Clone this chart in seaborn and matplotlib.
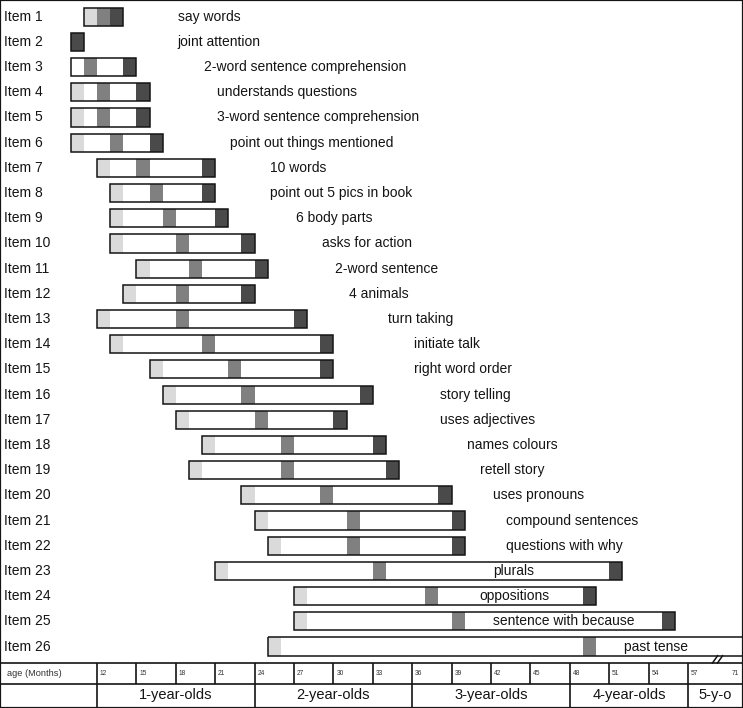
import numpy as np
import pandas as pd
import matplotlib.pyplot as plt
import matplotlib.transforms as mtransforms
import seaborn as sns

# one row per milestone item
items = [f"Item {i}" for i in range(1, 27)]
milestones = [
    "say words", "joint attention", "2-word sentence comprehension",
    "understands questions", "3-word sentence comprehension",
    "point out things mentioned", "10 words", "point out 5 pics in book",
    "6 body parts", "asks for action", "2-word sentence", "4 animals",
    "turn taking", "initiate talk", "right word order", "story telling",
    "uses adjectives", "names colours", "retell story", "uses pronouns",
    "compound sentences", "questions with why", "plurals", "oppositions",
    "sentence with because", "past tense",
]

# age in months where each bar begins / ends
start_month = [11, 10, 10, 10, 10, 10, 12, 13, 13, 13, 15, 14, 12,
               13, 16, 17, 18, 20, 19, 23, 24, 25, 21, 27, 27, 25]
end_month = [14, 11, 15, 16, 16, 17, 21, 21, 22, 24, 25, 24, 28,
             30, 30, 33, 31, 34, 35, 39, 40, 40, 52, 50, 56, 64]

# shaded one-month cells (None = no cell drawn)
light_month = [11, None, None, 10, 10, 10, 12, 13, 13, 13, 15, 14, 12,
               13, 16, 17, 18, 20, 19, 23, 24, 25, 21, 27, 27, 25]
mid_month = [12, None, 11, 12, 12, 13, 15, 16, 17, 18, 19, 18, 18,
             20, 22, 23, 24, 26, 26, 29, 31, 31, 33, 37, 39, 49]
dark_month = [13, 10, 14, 15, 15, 16, 20, 20, 21, 23, 24, 23, 27,
              29, 29, 32, 30, 33, 34, 38, 39, 39, 51, 49, 55, None]

# month where the milestone text starts
label_month = [18, 18, 20, 21, 21, 22, 25, 25, 27, 29, 30, 31, 34,
               36, 36, 38, 38, 40, 41, 42, 43, 43, 42, 41, 42, 52]

tick_months = [12, 15, 18, 21, 24, 27, 30, 33, 36, 39, 42, 45, 48, 51, 54, 57]
year_bounds = [12, 24, 36, 48, 57]
year_labels = ["1-year-olds", "2-year-olds", "3-year-olds", "4-year-olds", "5-y-o"]

df = pd.DataFrame({
    "item": items,
    "start": start_month,
    "end": end_month,
    "light": light_month,
    "mid": mid_month,
    "dark": dark_month,
})
df["span"] = df["end"] - df["start"]
df["one"] = 1.0

sns.set_style("white")
plt.rcParams['font.family'] = ['Liberation Sans', 'DejaVu Sans']

fig = plt.figure(figsize=(7.43, 7.08), dpi=100)
ax = fig.add_axes([0, 0, 1, 1])

bar_h = 0.72
ink = "#141414"

# shaded cells
for col, shade in [("light", "#dadada"), ("mid", "#808080"), ("dark", "#4a4a4a")]:
    sub = df.dropna(subset=[col])
    sns.barplot(
        data=sub, x="one", y="item", order=items, orient="y",
        left=sub[col].to_numpy(), color=shade, saturation=1,
        width=bar_h, errorbar=None, linewidth=0, ax=ax,
    )

# box outlines
sns.barplot(
    data=df, x="span", y="item", order=items, orient="y",
    left=df["start"].to_numpy(), color="white", facecolor="none",
    edgecolor=ink, linewidth=1.1, saturation=1,
    width=bar_h, errorbar=None, ax=ax,
)

# limits: x in months, y in rows
x_lo, x_hi = 4.61, 61.19
ax.set_xlim(x_lo, x_hi)
ax.set_ylim(27.44, -0.663)
ax.set_xticks([])
ax.set_yticks([])
ax.set_xlabel("")
ax.set_ylabel("")
for s in ax.spines.values():
    s.set_visible(True)
    s.set_linewidth(1.6)
    s.set_color(ink)

trans = mtransforms.blended_transform_factory(ax.transAxes, ax.transData)

# item labels and milestone names
for i, (it, name) in enumerate(zip(items, milestones)):
    ax.text(0.006, i, it, transform=trans, va="center", ha="left",
            fontsize=10, color=ink)
    ax.text(label_month[i] + 0.15, i, name, va="center", ha="left",
            fontsize=10, color=ink, zorder=5)

# age table at the bottom
y_top, y_mid, y_bot = 25.64, 26.47, 27.44
ax.axhline(y_top, color=ink, lw=1.2)
ax.axhline(y_mid, color=ink, lw=1.2)
ax.vlines(tick_months, y_top, y_mid, color=ink, lw=1.2)
ax.vlines(year_bounds, y_mid, y_bot, color=ink, lw=1.2)

y_m = (y_top + y_mid) / 2
for m in tick_months:
    ax.text(m + 0.22, y_m, str(m), fontsize=4.8, va="center", ha="left", color="#333333")
ax.text(0.994, y_m, "71", transform=trans, fontsize=4.8, va="center", ha="right", color="#333333")
ax.text(0.01, y_m, "age (Months)", transform=trans, fontsize=6.7, va="center", ha="left", color="#333333")

y_y = (y_mid + y_bot) / 2 - 0.04
edges = year_bounds + [x_hi]
for lab, a, b in zip(year_labels, edges[:-1], edges[1:]):
    ax.text((a + b) / 2, y_y, lab, fontsize=10.5, va="center", ha="center", color=ink)

# axis break mark: two slanted strokes across the table's top line
for dx in (0.0, 0.38):
    ax.plot([58.83 + dx, 59.29 + dx], [25.68, 25.34], color=ink, lw=1.1,
            solid_capstyle="butt", zorder=6)

plt.savefig("out.png", dpi=100)
plt.close()
